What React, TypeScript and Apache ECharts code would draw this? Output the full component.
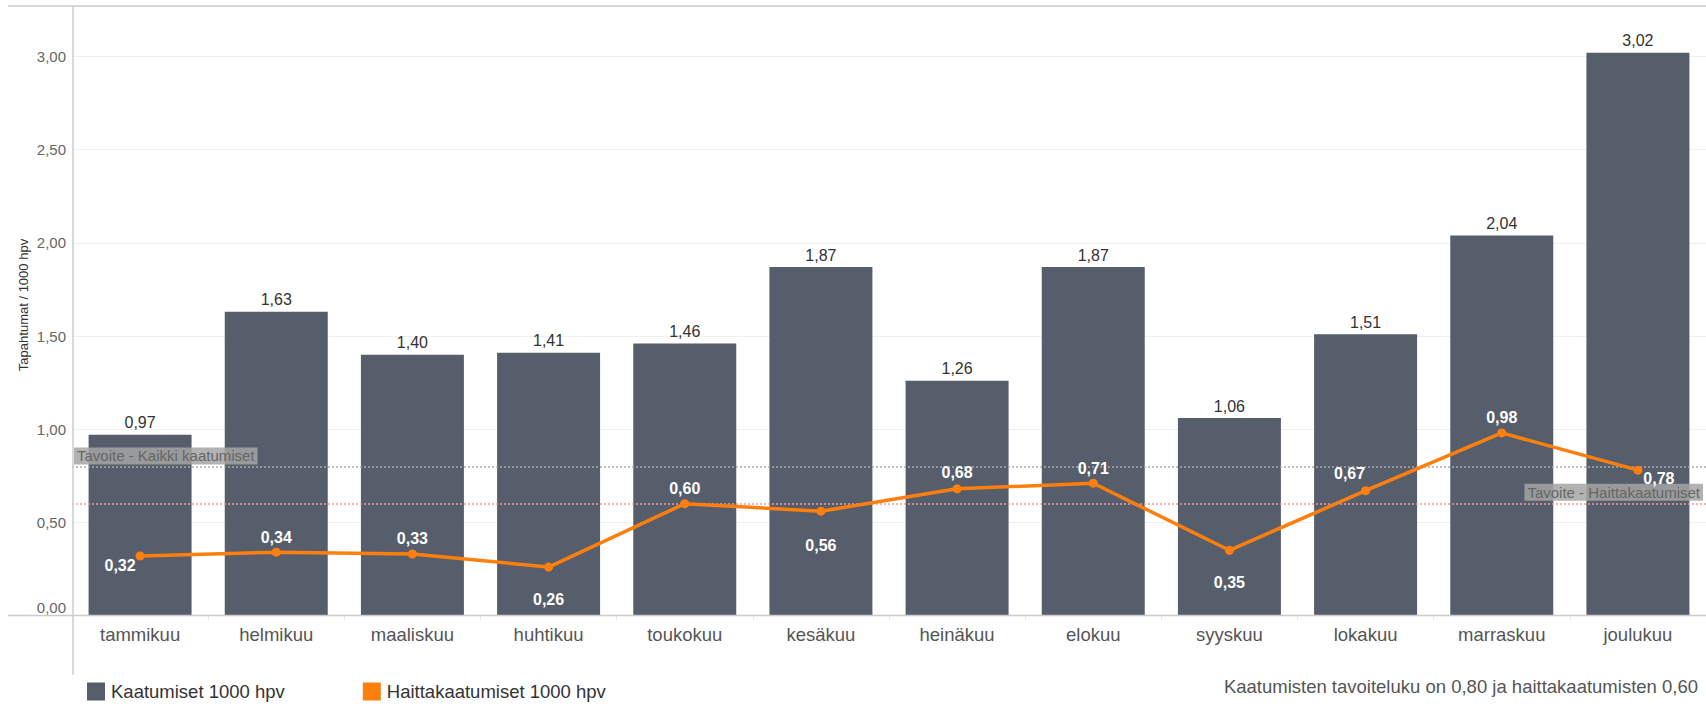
import React, { useEffect, useRef } from "react";
import * as echarts from "echarts";

const categories = [
  "tammikuu", "helmikuu", "maaliskuu", "huhtikuu", "toukokuu", "kesäkuu",
  "heinäkuu", "elokuu", "syyskuu", "lokakuu", "marraskuu", "joulukuu",
];
const falls = [0.97, 1.63, 1.4, 1.41, 1.46, 1.87, 1.26, 1.87, 1.06, 1.51, 2.04, 3.02];
const harmfulFalls = [0.32, 0.34, 0.33, 0.26, 0.6, 0.56, 0.68, 0.71, 0.35, 0.67, 0.98, 0.78];
const targetAll = 0.8;
const targetHarmful = 0.6;
const seriesNames = ["Kaatumiset 1000 hpv", "Haittakaatumiset 1000 hpv"];
const targetLabels = ["Tavoite - Kaikki kaatumiset", "Tavoite - Haittakaatumiset"];
const yAxisTitle = "Tapahtumat / 1000 hpv";
const footNote = "Kaatumisten tavoiteluku on 0,80 ja haittakaatumisten 0,60";

// label placement of the line values (relative to the point)
const lineLabelOffsets: [number, number][] = [
  [-20, 10], [0, -15], [0, -16], [0, 32], [0, -15], [0, 34],
  [0, -16], [0, -15], [0, 32], [-16, -17], [0, -15], [21, 8],
];

const FONT = 'Arial, "Liberation Sans", Helvetica, sans-serif';
const fmt = (v: number) => v.toFixed(2).replace(".", ",");

export default function App() {
  const ref = useRef<HTMLDivElement>(null);
  useEffect(() => {
    document.body.style.margin = "0";
    document.body.style.overflow = "hidden";
    const chart = echarts.init(ref.current!, null, { renderer: "svg" });
    const option: any = {
      animation: false,
      textStyle: { fontFamily: FONT },
      grid: { left: 72, top: 6, width: 1638.5, height: 609.5 },
      legend: {
        left: 82,
        top: 677,
        itemWidth: 18,
        itemHeight: 18,
        itemGap: 78,
        icon: "rect",
        data: seriesNames,
        textStyle: { fontSize: 18.5, color: "#333", fontFamily: FONT, padding: [0, 0, 0, 1] },
      },
      xAxis: {
        type: "category",
        data: categories,
        axisLine: { show: false },
        axisTick: { show: true, length: 5, lineStyle: { color: "#e8e8e8" } },
        axisLabel: { fontSize: 18.5, color: "#555", margin: 9, fontFamily: FONT },
      },
      yAxis: {
        type: "value",
        min: 0,
        max: 3.2716,
        interval: 0.5,
        axisLine: { show: false },
        axisTick: { show: false },
        splitLine: { lineStyle: { color: "#f0f0f0", width: 1 } },
        axisLabel: {
          showMaxLabel: false,
          fontSize: 15,
          color: "#666",
          margin: 6,
          fontFamily: FONT,
          formatter: (v: number) => (v === 0 ? "{z|" + fmt(v) + "}" : fmt(v)),
          rich: { z: { padding: [0, 0, 17, 0], fontSize: 15, color: "#666", fontFamily: FONT } },
        },
      },
      series: [
        {
          name: seriesNames[0],
          type: "bar",
          data: falls,
          barWidth: 103,
          itemStyle: { color: "#575E6B" },
          label: {
            show: true,
            position: "top",
            distance: 4,
            fontSize: 16,
            color: "#333",
            fontFamily: FONT,
            formatter: (p: any) => fmt(p.value),
          },
          markLine: {
            silent: true,
            symbol: "none",
            data: [
              {
                yAxis: targetAll,
                lineStyle: { color: "#aaaaaa", type: [2, 2], width: 1.5 },
                label: {
                  show: true,
                  position: "insideStartTop",
                  distance: 2,
                  formatter: targetLabels[0],
                  fontSize: 15,
                  color: "#666",
                  fontFamily: FONT,
                  backgroundColor: "rgba(165,165,165,0.85)",
                  padding: [1, 3],
                },
              },
              {
                yAxis: targetHarmful,
                lineStyle: { color: "#f29b9b", type: [2, 2], width: 1.5 },
                label: {
                  show: true,
                  position: "insideEndTop",
                  distance: 3,
                  formatter: targetLabels[1],
                  fontSize: 15,
                  color: "#666",
                  fontFamily: FONT,
                  backgroundColor: "rgba(165,165,165,0.85)",
                  padding: [1, 3],
                },
              },
            ],
          },
        },
        {
          name: seriesNames[1],
          type: "line",
          z: 5,
          data: harmfulFalls.map((v, i) => ({
            value: v,
            label: { offset: lineLabelOffsets[i] },
          })),
          symbol: "circle",
          symbolSize: 9,
          itemStyle: { color: "#FF7F0E" },
          lineStyle: { color: "#FF7F0E", width: 3.5 },
          label: {
            show: true,
            position: "inside",
            fontSize: 16,
            fontWeight: "bold",
            color: "#ffffff",
            fontFamily: FONT,
            formatter: (p: any) => fmt(p.value),
          },
        },
      ],
      graphic: [
        { type: "line", shape: { x1: 8, y1: 6, x2: 1706, y2: 6 }, style: { stroke: "#cccccc", lineWidth: 1.5 }, z: 10 },
        { type: "line", shape: { x1: 73, y1: 6, x2: 73, y2: 675 }, style: { stroke: "#cccccc", lineWidth: 1.5 }, z: 10 },
        { type: "line", shape: { x1: 8, y1: 615.5, x2: 1706, y2: 615.5 }, style: { stroke: "#cccccc", lineWidth: 1.5 }, z: 10 },
        {
          type: "text",
          x: 23,
          y: 305,
          rotation: Math.PI / 2,
          style: {
            text: yAxisTitle,
            fontSize: 13,
            fill: "#333",
            fontFamily: FONT,
            align: "center",
            verticalAlign: "middle",
          },
        },
        {
          type: "text",
          x: 1698,
          y: 686,
          style: {
            text: footNote,
            fontSize: 18.5,
            fill: "#555",
            fontFamily: FONT,
            align: "right",
            verticalAlign: "middle",
          },
        },
      ],
    };
    chart.setOption(option);
    return () => chart.dispose();
  }, []);
  return <div ref={ref} style={{ width: 1706, height: 724 }} />;
}
